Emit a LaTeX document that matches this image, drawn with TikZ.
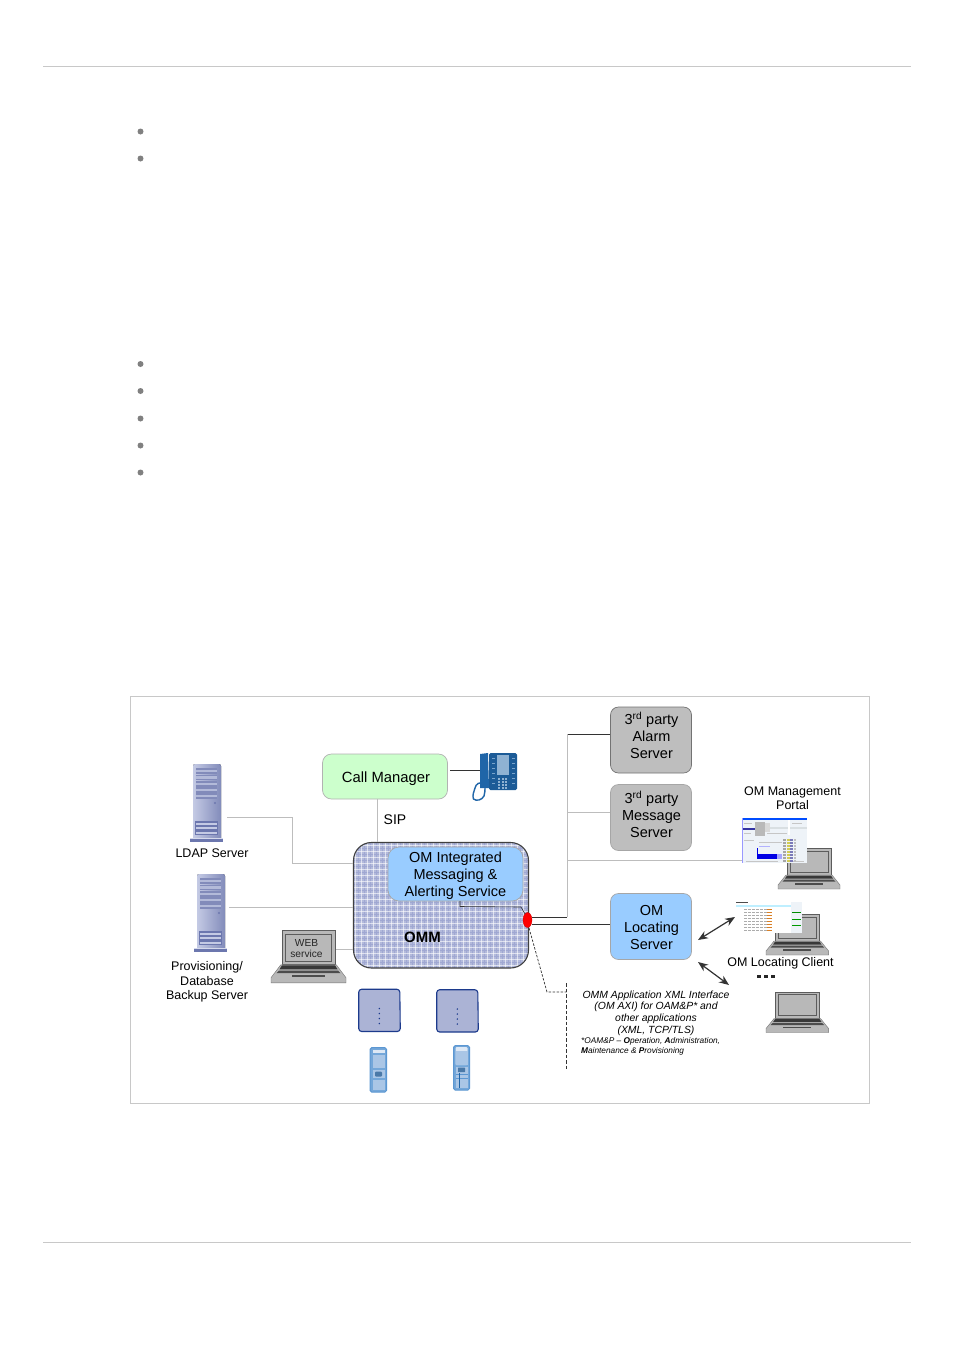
\documentclass[tikz,border=0pt]{standalone}
\usepackage{fontspec}
\setmainfont{Liberation Sans}
\usetikzlibrary{arrows.meta,shapes.geometric}
\definecolor{rule}{HTML}{C8C8C8}
\definecolor{wire}{HTML}{BDBDBD}
\definecolor{dark}{HTML}{333333}
\definecolor{lblue}{HTML}{99CCFF}
\definecolor{lgreen}{HTML}{CCFFCC}
\definecolor{gbox}{HTML}{BEBEBE}
\definecolor{omm}{HTML}{B3BADB}
\definecolor{ommd}{HTML}{A0A8D2}
\definecolor{srv}{HTML}{A9B1D8}
\definecolor{srvd}{HTML}{6C77AE}
\definecolor{srvl}{HTML}{C4CAE4}
\definecolor{tel}{HTML}{1F65A8}
\definecolor{hs}{HTML}{5C97D2}
\definecolor{hsl}{HTML}{AAC6E6}
\definecolor{lapg}{HTML}{B8B8B8}
\definecolor{bsline}{HTML}{1C3A8C}
\definecolor{bsfill}{HTML}{ABB3D5}
\definecolor{shot}{HTML}{EEF3F8}
\tikzset{
  fs/.style={font=\fontsize{#1}{#1}\selectfont},
  lab/.style={align=center,text=black,inner sep=0pt},
  box/.style={draw=#1,line width=.7pt,rounded corners=8pt,align=center,inner sep=0pt},
  glink/.style={draw=wire,line width=.8pt},
  dlink/.style={draw=dark,line width=1pt},
  dash1/.style={draw=dark,line width=.7pt,dash pattern=on 2.5pt off 1.5pt},
  biarrow/.style={draw=dark,line width=1.2pt,{Stealth[length=10pt,width=8pt]}-{Stealth[length=10pt,width=8pt]}},
}
\newcommand{\serverpic}[2]{%
 \begin{scope}[shift={(#1,#2)}]
  \fill[left color=srvl,right color=srvd!85,rounded corners=2pt] (3,-1) rectangle (31,75);
  \fill[srvd] (0,73) rectangle (33,77);
  \fill[srvl!70!white] (0,73) rectangle (33,74);
  \foreach \y in {3,9.5,16,22,28}{\fill[srvd!85] (6,\y) rectangle (27,\y+5.5);\fill[srvl,opacity=.75] (6,\y+1.8) rectangle (27,\y+4.2);}
  \fill[srvd] (5,56) rectangle (28,70);
  \foreach \y in {57.5,62,66.5}{\fill[srvl] (6,\y) rectangle (27,\y+2.4);}
  \fill[srvd] (25,38) circle (1.1pt);
 \end{scope}}
\newcommand{\laptoppic}[4]{% x y xscale yscale
 \begin{scope}[shift={(#1,#2)},xscale=#3,yscale=#4]
  \fill[lapg,draw=dark!80,line width=.7pt] (9,.5) rectangle (53,27);
  \draw[dark!80,line width=.7pt] (12,3) rectangle (50,24);
  \fill[lapg,draw=black!55,line width=.4pt] (8,27) -- (54,27) -- (62,37) -- (62,41) -- (0,41) -- (0,37) -- cycle;
  \fill[black!78] (9,27.5) -- (53,27.5) -- (55,30.5) -- (7,30.5) -- cycle;
  \fill[black!70] (6.5,31.5) -- (55.5,31.5) -- (57.5,33.5) -- (4.5,33.5) -- cycle;
  \fill[black!70] (17,35) rectangle (45,36.5);
 \end{scope}}
\newcommand{\basepic}[2]{%
 \begin{scope}[shift={(#1,#2)}]
  \draw[draw=bsline,fill=bsfill,line width=1.1pt,rounded corners=3pt] (.7,.7) -- (41.8,.7) -- (42.3,43) -- (.7,43) -- cycle;
  \foreach \y in {20,25,30,35}{\fill[bsline] (21.3,\y) circle (.8pt);}
 \end{scope}}
\begin{document}
\begin{tikzpicture}[x=1pt,y=-1pt]
\useasboundingbox (0,0) rectangle (954,1350);
\fill[white] (0,0) rectangle (954,1350);
% page furniture
\coordinate (ruleAl) at (43,66.5); \coordinate (ruleAr) at (911,66.5);
\coordinate (ruleBl) at (43,1242.5); \coordinate (ruleBr) at (911,1242.5);
\draw[rule,line width=.8pt] (ruleAl) -- (ruleAr);
\draw[rule,line width=.8pt] (ruleBl) -- (ruleBr);
\foreach \y in {131.5,158.5,364,391,418.5,445.5,472.5}{\fill[black!50] (140.5,\y) circle (3pt);}
\draw[rule,line width=.9pt] (130.5,696.5) rectangle (869.5,1103.5);

% OMM block with woven fill
\begin{scope}
 \clip[rounded corners=18pt] (353.5,842.5) rectangle (528.5,968);
 \fill[omm] (353,842) rectangle (529,968);
 \foreach \x in {352,358,...,529}{\draw[ommd,line width=.4pt] (\x,842) -- (\x,968);}
 \foreach \y in {842,848,...,968}{\draw[ommd,line width=.4pt] (353,\y) -- (529,\y);}
 \foreach \x in {355,361,...,529}{\draw[white,opacity=.6,line width=1pt] (\x,842) -- (\x,968);}
 \foreach \y in {845,851,...,968}{\draw[white,opacity=.6,line width=1pt] (353,\y) -- (529,\y);}
\end{scope}
\draw[black!75,line width=1.1pt,rounded corners=18pt] (353.5,842.5) rectangle (528.5,968);
\node[lab,font=\fontsize{15}{15}\selectfont\bfseries] (ommlabel) at (422.5,937.5) {OMM};

% service boxes
\node[box=black!35,fill=lblue,minimum width=135pt,minimum height=54pt,rounded corners=11pt] (imas) at (455.5,874) {};
\node[lab,fs=14.5] (imaslab) at (455.5,875.5) {OM Integrated\\[2.5pt]Messaging \&\\[2.5pt]Alerting Service};
\node[box=black!30,fill=lgreen,minimum width=125pt,minimum height=45pt,rounded corners=9pt] (cm) at (385,776.5) {};
\node[lab,font=\fontsize{14.8}{14.8}\selectfont] (cmlab) at (386,778.5) {Call Manager};
\node[box=black!55,fill=gbox,minimum width=81pt,minimum height=66pt] (alarm) at (651,740) {};
\node[lab,fs=14.5] (alarmlab) at (651.5,735.5) {3\textsuperscript{rd} party\\[2.5pt]Alarm\\[2.5pt]Server};
\node[box=black!35,fill=gbox,minimum width=81pt,minimum height=66pt] (msg) at (651,817.5) {};
\node[lab,fs=14.5] (msglab) at (651.5,814.5) {3\textsuperscript{rd} party\\[2.5pt]Message\\[2.5pt]Server};
\node[box=black!35,fill=lblue,minimum width=81pt,minimum height=66pt] (loc) at (651,926.5) {};
\node[lab,fs=14.5] (loclab) at (651.5,927.5) {OM\\[2.5pt]Locating\\[2.5pt]Server};
\node[ellipse,fill=red,draw=red!80!black,line width=.3pt,minimum width=9pt,minimum height=15pt,inner sep=0pt] (port) at (527.5,920) {};

% named ends for connectors
\coordinate (ldapE) at (227,817); \coordinate (provE) at (229,907.5); \coordinate (webE) at (334,949.5);
\coordinate (telW) at (480,770); \coordinate (busT) at (567,734); \coordinate (busB) at (567,917);
\coordinate (busM) at (567,812); \coordinate (busP) at (568,860); \coordinate (portalW) at (742,860);
\coordinate (noteA) at (547,992); \coordinate (noteB) at (566.5,992); \coordinate (noteT) at (566.5,983); \coordinate (noteU) at (566.5,1069);
\coordinate (cmS) at (377,799); \coordinate (ommN) at (377,842);
\coordinate (portE) at (532,924.5); \coordinate (locW) at (610,924.5);
\coordinate (portB) at (532,917);

% connectors
\draw[glink] (cmS) -- (ommN);
\draw[glink] (ldapE) -- (292,817) -- (292,863.5) -- (353,863.5);
\draw[glink] (provE) -- (353,907.5);
\draw[glink] (webE) -- (353,949.5);
\draw[dlink] (450,770) -- (telW);
\draw[dlink] (alarm.west |- busT) -- (busT);
\draw[glink] (busT) -- (busB);
\draw[dlink] (busB) -- (portB);
\draw[glink] (busM) -- (msg.west |- busM);
\draw[glink] (busP) -- (portalW);
\draw[dlink] (portE) -- (locW);
\draw[draw=dark,line width=.6pt] (460,901) -- (460,906.5) -- (521,907) -- (525,914);
\draw[dash1] (529,928) -- (noteA) -- (noteB);
\draw[dash1,dash pattern=on 3.5pt off 2pt] (noteT) -- (noteU);

% servers
\serverpic{190}{765}
\serverpic{194}{875}
\node[lab,fs=12.5] (ldaplab) at (212,853) {LDAP Server};
\node[lab,fs=12.5] (provlab) at (207,982) {Provisioning/\\[2pt]Database\\[2pt]Backup Server};

% desk phone
\fill[tel] (480,754) -- (488,753) -- (489,788) -- (480,788) -- cycle;
\fill[tel!90!black,rounded corners=1.5pt] (489,753) rectangle (517,790);
\fill[tel!50!white] (497,754.5) rectangle (509,775);
\foreach \y in {778,781,784,787}{\foreach \x in {498,501.5,505}{\fill[tel!50!white] (\x,\y) rectangle +(2.4,1.7);}}
\foreach \y in {758,763,768,773,778,783}{\fill[tel!60!white] (491.5,\y) rectangle +(3,1.4);\fill[tel!60!white] (511.5,\y) rectangle +(3,1.4);}
\draw[tel,line width=1.4pt] (486,784) .. controls (479,781) and (476,784) .. (475,788) .. controls (474,792) and (472,795) .. (473.5,799) .. controls (476.5,801.5) and (482,800) .. (484,796) .. controls (485,793) and (485,790) .. (485,788);

% web laptop
\laptoppic{271}{930}{1.21}{1.29}
\node[lab,fs=10.2,text=black!85] (weblab) at (306.5,948.5) {WEB\\[1.5pt]service};

% portal
\laptoppic{778}{848}{1}{1}
\begin{scope}[shift={(742,818)}]
 \fill[shot] (0,0) rectangle (65,45);
 \fill[blue!70!cyan] (0,0) rectangle (65,2);
 \fill[blue!40!white] (0,0) rectangle (1,45);
 \fill[blue!55!black!80] (1,10) rectangle (15,12);
 \fill[cyan!15!gray!30] (15,9) rectangle (65,11);
 \fill[gray!55] (13,4) rectangle (23,18);
 \fill[gray!30] (23,5) rectangle (28,14);
 \fill[white] (46,2) rectangle (47.5,17);
 \draw[gray!45,line width=.4pt] (25,15) -- (45,15) (2,5) -- (10,5) (2,15) -- (9,15) (2,22) -- (12,22) (50,5) -- (60,5) (17,24) -- (40,24) (4,43.5) -- (36,43.5) (48,43.5) -- (62,43.5);
 \fill[blue!30] (17,28) rectangle (28,29);
 \fill[blue!90!black] (15,36) rectangle (35,41);
 \fill[blue!90!black] (15,30) rectangle (16,41);
 \fill[blue!35] (35,36) rectangle (40,41);
 \foreach \y in {21,24,27,30,33,36,39,42}{\fill[gray!70] (41,\y) rectangle +(3,1.8);\fill[yellow!60!gray] (44.5,\y) rectangle +(3,1.8);\fill[blue!30!gray!80] (48,\y) rectangle +(3,1.8);\fill[gray!50] (51.5,\y) rectangle +(2,1.8);}
\end{scope}
\node[lab,fs=12.5] (portallab) at (792.5,798) {OM Management\\[2pt]Portal};

% locating client
\laptoppic{766}{914}{1.01}{1}
\begin{scope}[shift={(736,902)}]
 \fill[white] (0,0) rectangle (66,31);
 \fill[black!70] (0,0) rectangle (12,1);
 \fill[blue!25!cyan!25] (0,3) rectangle (66,5);
 \fill[shot] (55,0) rectangle (66,31);
 \foreach \y in {7,10,13,16,19,22,25,28}{\draw[gray!65,line width=.5pt,dash pattern=on 2.5pt off 1.5pt] (8,\y) -- (32,\y);\draw[orange!70!gray,line width=.5pt] (31,\y) -- (36,\y);}
 \draw[green!55!black,line width=.8pt] (56,10) -- (65,10);
 \draw[green!60!black,line width=.5pt] (56,17) -- (65,17) (56,23) -- (65,23);
\end{scope}
\node[lab,fs=12.5] (clientlab) at (780.5,963.5) {OM Locating Client};
\foreach \x in {757,764,771}{\fill[black!85] (\x,974.5) rectangle +(4,3.5);}
\coordinate (cliA) at (735,917); \coordinate (locA) at (698,940);
\coordinate (cliB) at (729,985); \coordinate (locB) at (698,962);
\draw[biarrow] (locA) -- (cliA);
\draw[biarrow] (locB) -- (cliB);

% lower laptop
\laptoppic{766}{991.5}{1.01}{1}

% base stations
\basepic{358}{988.5}
\basepic{436}{989}

% handsets
\begin{scope}[shift={(369.5,1047)}]
 \draw[draw=hs,fill=hs!85,line width=1pt,rounded corners=1.5pt] (.7,.7) rectangle (17,45);
 \fill[white!60!hsl] (3,2.5) rectangle (15,6);
 \fill[hsl] (3,7.5) rectangle (15,21);
 \fill[hsl] (3,23) rectangle (15,31);
 \fill[hs!80!black,rounded corners=1pt] (5.5,24.5) rectangle (12.5,29.5);
 \fill[hsl] (3,33) rectangle (15,43);
\end{scope}
\begin{scope}[shift={(453,1045)}]
 \draw[draw=hs,fill=hs!85,line width=1pt,rounded corners=1.5pt] (.7,.7) rectangle (16.5,45);
 \fill[white!60!hsl,rounded corners=1pt] (2.5,2) rectangle (14.5,20);
 \fill[hsl] (2.5,6) rectangle (14.5,20);
 \fill[hsl] (2.5,22) rectangle (14.5,43);
 \fill[hs!80!black,rounded corners=.5pt] (5,22.5) rectangle (12,27);
 \draw[hs,line width=.7pt] (2.5,29) -- (14.5,29) (2.5,33) -- (14.5,33);
 \draw[tel,line width=.7pt] (6,28) -- (6,43);
\end{scope}

% text
\node[lab,fs=14] (siplab) at (395,819.5) {SIP};
\node[lab,font=\fontsize{10.4}{10.4}\selectfont\itshape] (notelab) at (656,1013) {OMM Application XML Interface\\[1.3pt](OM AXI) for OAM\&P* and\\[1.3pt]other applications\\[1.3pt](XML, TCP/TLS)};
\node[lab,align=left,font=\fontsize{8.3}{10}\selectfont\itshape,anchor=north west] (note2) at (581,1037.5) {*OAM\&P -- \textbf{O}peration, \textbf{A}dministration,\\\textbf{M}aintenance \& \textbf{P}rovisioning};
\end{tikzpicture}
\end{document}
